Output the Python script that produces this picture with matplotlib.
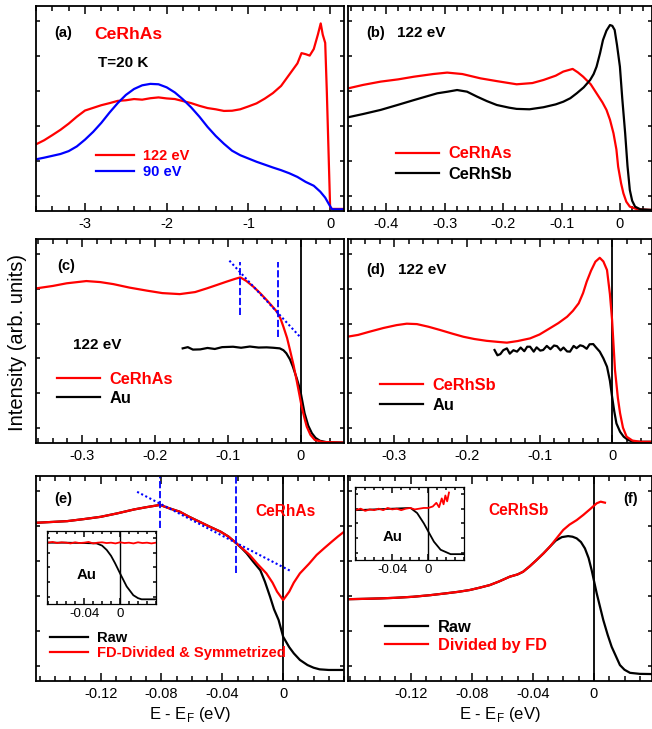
import numpy as np
import matplotlib
matplotlib.use('Agg')
import matplotlib.pyplot as plt
from matplotlib.ticker import MultipleLocator, FuncFormatter

plt.rcParams['font.family'] = ['Liberation Sans', 'DejaVu Sans']
plt.rcParams['axes.unicode_minus'] = False
plt.rcParams['mathtext.fontset'] = 'custom'
plt.rcParams['mathtext.rm'] = 'Liberation Sans'

# ---- (a) CeRhAs, wide range
a_x_122 = [-3.6, -3.5, -3.4, -3.3, -3.2, -3.1, -3.0, -2.9, -2.8, -2.7, -2.6, -2.5, -2.4, -2.3,
           -2.2, -2.1, -2.0, -1.9, -1.8, -1.7, -1.6, -1.5, -1.4, -1.3, -1.2, -1.1, -1.0, -0.9,
           -0.8, -0.7, -0.6, -0.5, -0.4, -0.35, -0.3, -0.25, -0.2, -0.15, -0.115, -0.09, -0.06,
           -0.04, -0.02, 0.0, 0.02, 0.17]
a_y_122 = [32.5, 34.5, 37.0, 39.6, 42.6, 46.0, 49.0, 50.3, 51.6, 52.6, 53.7, 54.0, 54.6, 54.3,
           55.0, 55.4, 54.9, 54.6, 53.6, 52.6, 51.3, 50.2, 49.6, 48.8, 48.9, 49.6, 51.0, 52.5,
           54.8, 57.5, 61.0, 66.5, 72.0, 77.0, 76.5, 75.8, 79.0, 86.0, 91.5, 86.0, 82.0,
           58.0, 30.0, 2.0, 1.0, 1.0]
a_x_90 = [-3.6, -3.5, -3.4, -3.3, -3.2, -3.1, -3.0, -2.9, -2.8, -2.7, -2.6, -2.5, -2.4, -2.3,
          -2.2, -2.1, -2.0, -1.9, -1.8, -1.7, -1.6, -1.5, -1.4, -1.3, -1.2, -1.1, -1.0, -0.9,
          -0.8, -0.7, -0.6, -0.5, -0.4, -0.3, -0.2, -0.12, -0.06, -0.02, 0.02, 0.04, 0.17]
a_y_90 = [25.2, 26.0, 26.9, 27.8, 29.2, 31.5, 34.8, 38.6, 43.0, 48.0, 52.6, 56.6, 59.5, 61.3,
          62.0, 61.8, 60.3, 57.8, 54.4, 50.5, 46.0, 41.0, 36.6, 32.8, 29.4, 27.2, 25.6, 24.0,
          22.6, 21.2, 19.9, 18.4, 16.6, 14.2, 12.3, 9.4, 6.5, 3.7, 1.0, 0.8, 0.8]

# ---- (b) CeRhAs vs CeRhSb, 122 eV
b_x_as = [-0.466, -0.44, -0.41, -0.38, -0.353, -0.32, -0.296, -0.27, -0.239, -0.21, -0.177,
          -0.15, -0.131, -0.11, -0.097, -0.081, -0.072, -0.063, -0.05, -0.040, -0.03, -0.023,
          -0.017, -0.011, -0.006, -0.003, 0.002, 0.006, 0.011, 0.017, 0.03, 0.055]
b_y_as = [59.8, 61.5, 63.1, 64.2, 65.5, 66.8, 67.5, 66.8, 64.7, 63.3, 61.8,
          62.4, 63.9, 66.0, 68.0, 69.3, 67.6, 65.5, 61.8, 57.4, 53.0, 49.3,
          44.5, 37.9, 30.0, 21.6, 13.5, 8.6, 4.5, 2.1, 0.8, 0.5]
b_x_sb = [-0.466, -0.44, -0.41, -0.38, -0.353, -0.33, -0.313, -0.295, -0.279, -0.262, -0.245,
          -0.228, -0.211, -0.19, -0.177, -0.155, -0.131, -0.11, -0.097, -0.085, -0.074, -0.062,
          -0.051, -0.045, -0.040, -0.034, -0.029, -0.023, -0.017, -0.013, -0.009, -0.005, 0.0,
          0.004, 0.009, 0.013, 0.017, 0.021, 0.026, 0.035, 0.055]
b_y_sb = [45.7, 47.3, 49.3, 51.8, 54.1, 56.0, 57.4, 58.2, 59.0, 58.2, 55.8,
          53.6, 51.7, 50.4, 49.8, 49.6, 50.6, 52.0, 53.3, 55.0, 57.4, 60.3,
          63.9, 66.8, 70.4, 77.0, 83.4, 88.0, 90.7, 90.3, 88.3, 81.0, 70.4,
          55.0, 37.9, 22.0, 10.2, 5.0, 2.1, 0.8, 0.5]

# ---- (c) CeRhAs vs Au
c_x_as = [-0.363, -0.34, -0.321, -0.294, -0.275, -0.257, -0.235, -0.211, -0.19, -0.166, -0.145,
          -0.129, -0.115, -0.102, -0.09, -0.083, -0.075, -0.065, -0.056, -0.047, -0.040, -0.033,
          -0.028, -0.024, -0.019, -0.015, -0.010, -0.006, -0.002, 0.001, 0.005, 0.008, 0.013,
          0.019, 0.03, 0.059]
c_y_as = [75.8, 77.0, 78.3, 79.4, 78.9, 77.9, 76.2, 74.7, 73.5, 73.0, 74.0,
          75.8, 77.5, 79.1, 80.5, 81.2, 79.5, 76.6, 73.5, 70.1, 67.3, 64.4,
          61.0, 57.0, 51.5, 45.6, 38.0, 30.9, 23.5, 17.8, 12.0, 8.0, 4.0,
          1.5, 0.5, 0.2]
c_x_au = [-0.162, -0.155, -0.148, -0.138, -0.128, -0.118, -0.108, -0.093, -0.082, -0.07, -0.058,
          -0.047, -0.038, -0.029, -0.024, -0.020, -0.015, -0.011, -0.006, -0.001, 0.005, 0.010,
          0.015, 0.020, 0.026, 0.035, 0.059]
c_y_au = [46.4, 47.0, 45.8, 45.9, 46.6, 46.1, 47.0, 47.2, 46.7, 47.3, 46.8,
          46.9, 46.7, 46.4, 45.5, 44.0, 41.0, 37.4, 32.0, 26.0, 14.6, 8.5,
          4.8, 2.5, 1.1, 0.4, 0.2]
c_vlines = [-0.083, -0.032]
c_vtop = [88.9, 88.9]
c_vbot = [62.7, 52.1]
c_slope_x = [-0.098, -0.0014]
c_slope_y = [89.4, 52.1]

# ---- (d) CeRhSb vs Au
d_x_sb = [-0.365, -0.35, -0.334, -0.315, -0.297, -0.283, -0.269, -0.253, -0.237, -0.22, -0.205,
          -0.19, -0.173, -0.158, -0.145, -0.13, -0.113, -0.1, -0.086, -0.074, -0.062, -0.054,
          -0.046, -0.040, -0.035, -0.029, -0.023, -0.017, -0.012, -0.007, -0.003, 0.0, 0.004,
          0.008, 0.011, 0.015, 0.020, 0.028, 0.039, 0.055]
d_y_sb = [52.1, 53.0, 54.6, 56.4, 57.8, 58.5, 58.3, 57.0, 55.4, 53.6, 52.1,
          51.0, 50.1, 49.6, 49.2, 50.0, 51.3, 53.2, 56.2, 58.8, 61.9, 64.8,
          68.5, 73.5, 79.1, 84.5, 88.9, 90.8, 89.0, 84.8, 73.0, 60.3, 35.8,
          22.0, 14.6, 7.5, 3.1, 1.2, 0.6, 0.6]
d_x_au = [-0.162, -0.158, -0.154, -0.150, -0.145, -0.141, -0.136, -0.131, -0.126, -0.121, -0.117,
          -0.113, -0.108, -0.104, -0.099, -0.095, -0.090, -0.085, -0.080, -0.076, -0.071, -0.067,
          -0.062, -0.058, -0.053, -0.049, -0.044, -0.040, -0.035, -0.031, -0.026, -0.022, -0.017,
          -0.012, -0.007, -0.003, 0.0, 0.003, 0.006, 0.011, 0.016, 0.022, 0.029, 0.055]
d_y_au = [45.6, 43.0, 43.6, 45.5, 46.4, 43.8, 45.5, 44.8, 46.8, 45.0, 47.2,
          47.2, 44.8, 46.9, 45.3, 45.6, 47.6, 46.0, 47.8, 47.5, 45.4, 46.8,
          44.9, 44.8, 47.6, 46.5, 47.9, 47.5, 46.2, 48.4, 48.5, 46.8, 44.8,
          41.5, 37.4, 30.5, 22.7, 15.5, 9.6, 5.5, 3.1, 1.5, 0.6, 0.6]

# ---- (e) CeRhAs raw and FD-divided & symmetrized
e_x_sym = [-0.1625, -0.152, -0.142, -0.131, -0.120, -0.109, -0.098, -0.09, -0.081, -0.075,
           -0.068, -0.062, -0.055, -0.048, -0.041, -0.036, -0.032, -0.027, -0.022, -0.017,
           -0.011, -0.007, -0.004, 0.0, 0.004, 0.007, 0.011, 0.017, 0.022, 0.027, 0.032,
           0.036, 0.04]
e_y_sym = [77.2, 77.6, 78.0, 79.0, 80.1, 81.8, 83.7, 84.8, 85.9, 84.3,
           82.6, 80.2, 77.7, 75.2, 72.8, 70.5, 68.0, 64.8, 61.5, 57.2,
           52.5, 48.0, 43.6, 39.5, 43.6, 48.0, 52.5, 57.2, 61.5, 64.8, 68.0,
           70.5, 72.8]
e_x_raw = [-0.1625, -0.152, -0.142, -0.131, -0.120, -0.109, -0.098, -0.09, -0.081, -0.075,
           -0.068, -0.062, -0.055, -0.048, -0.041, -0.036, -0.032, -0.027, -0.024, -0.02,
           -0.015, -0.012, -0.0086, -0.006, -0.003, 0.0, 0.004, 0.007, 0.011, 0.016, 0.020,
           0.024, 0.03, 0.04]
e_y_raw = [77.2, 77.6, 78.0, 79.0, 80.1, 81.8, 83.7, 84.8, 85.9, 84.3,
           82.6, 80.2, 77.7, 75.2, 72.8, 70.5, 68.0, 64.6, 62.3, 58.5,
           54.0, 48.5, 41.1, 35.0, 29.8, 21.6, 16.5, 13.5, 10.3, 7.8, 6.5,
           5.7, 5.4, 5.4]
e_vlines = [-0.081, -0.031]
e_vtop = [99.7, 99.7]
e_vbot = [74.5, 52.5]
e_slope_x = [-0.096, 0.0046]
e_slope_y = [92.3, 53.8]

# inset of (e): Au
ei_x_raw = [-0.081, -0.06, -0.04, -0.026, -0.02, -0.0148, -0.01, -0.0056, 0.0008, 0.0074,
            0.0148, 0.02, 0.024, 0.04]
ei_y_raw = [0.84, 0.84, 0.835, 0.83, 0.80, 0.74, 0.66, 0.56, 0.40, 0.24,
            0.12, 0.08, 0.064, 0.064]
ei_x_div = [-0.081, -0.075, -0.07, -0.065, -0.06, -0.055, -0.05, -0.045, -0.04, -0.035, -0.03,
            -0.025, -0.02, -0.015, -0.01, -0.005, 0.0, 0.005, 0.01, 0.015, 0.02, 0.025, 0.03,
            0.035, 0.04]
ei_y_div = [0.84, 0.85, 0.835, 0.845, 0.84, 0.83, 0.845, 0.835, 0.84, 0.85, 0.83,
            0.84, 0.845, 0.835, 0.84, 0.83, 0.845, 0.835, 0.84, 0.83, 0.845, 0.835, 0.84,
            0.83, 0.84]

# ---- (f) CeRhSb raw and divided by FD
f_x_div = [-0.1618, -0.15, -0.140, -0.13, -0.1185, -0.107, -0.0966, -0.089, -0.0813, -0.075,
           -0.0682, -0.062, -0.0551, -0.05, -0.0464, -0.042, -0.0376, -0.033, -0.0289, -0.0245,
           -0.0201, -0.016, -0.0113, -0.007, -0.0026, 0.0018, 0.0044, 0.0072]
f_y_div = [39.9, 40.1, 40.3, 40.6, 41.1, 41.9, 42.8, 43.5, 44.4, 45.5,
           46.8, 48.6, 50.9, 52.0, 53.3, 56.0, 59.0, 62.3, 65.5, 69.6,
           73.7, 76.3, 78.5, 81.0, 83.8, 86.7, 87.5, 87.0]
f_x_raw = [-0.1618, -0.15, -0.140, -0.13, -0.1185, -0.107, -0.0966, -0.089, -0.0813, -0.075,
           -0.0682, -0.062, -0.0551, -0.05, -0.0464, -0.042, -0.0376, -0.033, -0.0289, -0.025,
           -0.021, -0.0169, -0.014, -0.0113, -0.0085, -0.0059, -0.0035, -0.0015, 0.0018, 0.0061,
           0.009, 0.0116, 0.017, 0.02, 0.0236, 0.03, 0.038]
f_y_raw = [39.9, 40.1, 40.3, 40.6, 41.1, 41.9, 42.8, 43.5, 44.4, 45.5,
           46.8, 48.6, 50.9, 52.0, 53.3, 56.0, 59.0, 62.3, 65.5, 68.5,
           70.2, 70.7, 70.4, 69.6, 67.8, 64.7, 60.0, 54.1, 42.8, 29.8,
           22.5, 16.7, 7.8, 5.5, 4.0, 3.5, 3.4]

# inset of (f): Au
fi_x_raw = [-0.081, -0.06, -0.04, -0.0197, -0.0123, -0.0049, 0.0, 0.0063, 0.0137, 0.0248, 0.04]
fi_y_raw = [0.68, 0.69, 0.70, 0.71, 0.64, 0.50, 0.39, 0.25, 0.14, 0.08, 0.08]
fi_x_div = [-0.081, -0.075, -0.07, -0.065, -0.06, -0.055, -0.05, -0.045, -0.04, -0.035, -0.03,
            -0.025, -0.02, -0.015, -0.01, -0.005, 0.0, 0.005, 0.009, 0.012, 0.015, 0.017,
            0.019, 0.021, 0.023]
fi_y_div = [0.68, 0.70, 0.67, 0.69, 0.68, 0.70, 0.68, 0.71, 0.69, 0.70, 0.68,
            0.70, 0.71, 0.69, 0.70, 0.71, 0.71, 0.73, 0.78, 0.72, 0.84, 0.76,
            0.88, 0.80, 0.92]

RED = '#ff0000'
BLUE = '#0000ff'
LW = 1.6

fig = plt.figure(figsize=(6.52, 7.29), dpi=100)

fmt = FuncFormatter(lambda v, p: '%g' % (round(v, 4) + 0.0))


def setup(ax, xlim, majors, minor, ylim=(0, 100), yt=np.arange(7.5, 100, 17),
          maj_len=6, min_len=3.5, fs=10.5):
    ax.set_xlim(*xlim)
    ax.set_ylim(*ylim)
    ax.set_xticks(majors)
    ax.xaxis.set_minor_locator(MultipleLocator(minor))
    ax.xaxis.set_major_formatter(fmt)
    ax.set_yticks(yt)
    ax.set_yticklabels([])
    ax.tick_params(which='both', direction='in', top=True, right=True, width=1.1,
                   labelsize=fs, pad=4)
    ax.tick_params(axis='x', which='major', length=maj_len)
    ax.tick_params(axis='x', which='minor', length=min_len)
    ax.tick_params(axis='y', which='major', length=min_len * 0.8)
    for s in ax.spines.values():
        s.set_linewidth(1.3)


def leg(ax, x, y, spacing, fs, colors):
    lg = ax.legend(loc='upper left', bbox_to_anchor=(x, y), frameon=False, borderpad=0,
                   borderaxespad=0, handlelength=2.6, handletextpad=0.6,
                   labelspacing=spacing, prop={'weight': 'bold', 'size': fs})
    for t, c in zip(lg.get_texts(), colors):
        t.set_color(c)


L, R = 0.0552, 0.5337
WL, WR = 0.4724, 0.4663
ax_a = fig.add_axes([L, 0.7106, WL, 0.2812])
ax_b = fig.add_axes([R, 0.7106, WR, 0.2812])
ax_c = fig.add_axes([L, 0.3923, WL, 0.2798])
ax_d = fig.add_axes([R, 0.3923, WR, 0.2798])
ax_e = fig.add_axes([L, 0.0658, WL, 0.2812])
ax_f = fig.add_axes([R, 0.0658, WR, 0.2812])

# (a)
ax_a.plot(a_x_122, a_y_122, color=RED, lw=LW, label='122 eV')
ax_a.plot(a_x_90, a_y_90, color=BLUE, lw=LW, label='90 eV')
setup(ax_a, (-3.6, 0.17), [-3, -2, -1, 0], 0.2)
ax_a.text(0.06, 0.87, '(a)', transform=ax_a.transAxes, fontsize=10.5, fontweight='bold', va='center')
ax_a.text(0.19, 0.86, 'CeRhAs', transform=ax_a.transAxes, fontsize=12.6, fontweight='bold',
          color=RED, va='center')
ax_a.text(0.2, 0.72, 'T=20 K', transform=ax_a.transAxes, fontsize=11, fontweight='bold', va='center')
leg(ax_a, 0.195, 0.30, 0.1, 10.5, [RED, BLUE])

# (b)
ax_b.plot(b_x_as, b_y_as, color=RED, lw=LW, label='CeRhAs')
ax_b.plot(b_x_sb, b_y_sb, color='k', lw=LW, label='CeRhSb')
setup(ax_b, (-0.466, 0.055), [-0.4, -0.3, -0.2, -0.1, 0], 0.02)
ax_b.text(0.06, 0.87, '(b)', transform=ax_b.transAxes, fontsize=10.5, fontweight='bold', va='center')
ax_b.text(0.16, 0.87, '122 eV', transform=ax_b.transAxes, fontsize=11, fontweight='bold', va='center')
leg(ax_b, 0.158, 0.315, 0.35, 11.8, [RED, 'k'])

# (c)
ax_c.axvline(0, color='k', lw=1.3)
ax_c.plot(c_x_au, c_y_au, color='k', lw=LW, label='Au')
ax_c.plot(c_x_as, c_y_as, color=RED, lw=LW, label='CeRhAs')
for xv, y0, y1 in zip(c_vlines, c_vbot, c_vtop):
    ax_c.plot([xv, xv], [y0, y1], color=BLUE, lw=1.3, ls=(0, (4, 1.5)))
ax_c.plot(c_slope_x, c_slope_y, color=BLUE, lw=1.5, ls=(0, (1, 1.2)))
setup(ax_c, (-0.363, 0.059), [-0.3, -0.2, -0.1, 0], 0.02)
ax_c.text(0.07, 0.87, '(c)', transform=ax_c.transAxes, fontsize=10.5, fontweight='bold', va='center')
ax_c.text(0.12, 0.48, '122 eV', transform=ax_c.transAxes, fontsize=11, fontweight='bold', va='center')
h, lb = ax_c.get_legend_handles_labels()
lg = ax_c.legend(h[::-1], lb[::-1], loc='upper left', bbox_to_anchor=(0.068, 0.35), frameon=False,
                 borderpad=0, borderaxespad=0, handlelength=2.6, handletextpad=0.6,
                 labelspacing=0.25, prop={'weight': 'bold', 'size': 11.8})
for t, c in zip(lg.get_texts(), [RED, 'k']):
    t.set_color(c)

# (d)
ax_d.axvline(0, color='k', lw=1.3)
ax_d.plot(d_x_au, d_y_au, color='k', lw=LW, label='Au')
ax_d.plot(d_x_sb, d_y_sb, color=RED, lw=LW, label='CeRhSb')
setup(ax_d, (-0.364, 0.055), [-0.3, -0.2, -0.1, 0], 0.02)
ax_d.text(0.06, 0.85, '(d)', transform=ax_d.transAxes, fontsize=10.5, fontweight='bold', va='center')
ax_d.text(0.165, 0.85, '122 eV', transform=ax_d.transAxes, fontsize=11, fontweight='bold', va='center')
h, lb = ax_d.get_legend_handles_labels()
lg = ax_d.legend(h[::-1], lb[::-1], loc='upper left', bbox_to_anchor=(0.105, 0.32), frameon=False,
                 borderpad=0, borderaxespad=0, handlelength=2.6, handletextpad=0.6,
                 labelspacing=0.32, prop={'weight': 'bold', 'size': 11.8})
for t, c in zip(lg.get_texts(), [RED, 'k']):
    t.set_color(c)

# (e)
ax_e.axvline(0, color='k', lw=1.3)
ax_e.plot(e_x_raw, e_y_raw, color='k', lw=LW, label='Raw')
ax_e.plot(e_x_sym, e_y_sym, color=RED, lw=LW, label='FD-Divided & Symmetrized')
for xv, y0, y1 in zip(e_vlines, e_vbot, e_vtop):
    ax_e.plot([xv, xv], [y0, y1], color=BLUE, lw=1.3, ls=(0, (4, 1.5)))
ax_e.plot(e_slope_x, e_slope_y, color=BLUE, lw=1.5, ls=(0, (1, 1.2)))
setup(ax_e, (-0.1625, 0.04), [-0.12, -0.08, -0.04, 0], 0.01)
ax_e.set_xlabel('E - E$_\\mathregular{F}$ (eV)', fontsize=12, labelpad=3)
ax_e.text(0.06, 0.89, '(e)', transform=ax_e.transAxes, fontsize=10.5, fontweight='bold', va='center')
ax_e.text(0.81, 0.826, 'CeRhAs', transform=ax_e.transAxes, fontsize=11.2, fontweight='bold',
          color=RED, va='center', ha='center')
leg(ax_e, 0.045, 0.245, 0.08, 10.6, ['k', RED])

# (f)
ax_f.axvline(0, color='k', lw=1.3)
ax_f.plot(f_x_raw, f_y_raw, color='k', lw=LW, label='Raw')
ax_f.plot(f_x_div, f_y_div, color=RED, lw=LW, label='Divided by FD')
setup(ax_f, (-0.161, 0.038), [-0.12, -0.08, -0.04, 0], 0.01)
ax_f.set_xlabel('E - E$_\\mathregular{F}$ (eV)', fontsize=12, labelpad=3)
ax_f.text(0.93, 0.89, '(f)', transform=ax_f.transAxes, fontsize=10.5, fontweight='bold',
          va='center', ha='center')
ax_f.text(0.56, 0.83, 'CeRhSb', transform=ax_f.transAxes, fontsize=11.2, fontweight='bold',
          color=RED, va='center', ha='center')
leg(ax_f, 0.122, 0.30, 0.2, 11.8, ['k', RED])

# insets
for pos, xr, yr, xd, yd, tx, ty in [
        ([0.0725, 0.1715, 0.1667, 0.1001], ei_x_raw, ei_y_raw, ei_x_div, ei_y_div, 0.27, 0.40),
        ([0.5449, 0.2318, 0.1672, 0.1006], fi_x_raw, fi_y_raw, fi_x_div, fi_y_div, 0.25, 0.32)]:
    ins = fig.add_axes(pos)
    ins.axvline(0, color='k', lw=1.0)
    ins.plot(xr, yr, color='k', lw=1.3)
    ins.plot(xd, yd, color=RED, lw=1.3)
    setup(ins, (-0.081, 0.04), [-0.04, 0], 0.01, ylim=(0, 1), yt=np.arange(0.1, 1, 0.2),
          maj_len=4, min_len=2.5, fs=9.5)
    ins.tick_params(pad=3)
    for s in ins.spines.values():
        s.set_linewidth(0.9)
    ins.text(tx, ty, 'Au', transform=ins.transAxes, fontsize=10.8, fontweight='bold', va='center')

fig.text(0.027, 0.53, 'Intensity (arb. units)', rotation=90, fontsize=14.5, va='center', ha='center')

fig.savefig('out.png', dpi=100)
